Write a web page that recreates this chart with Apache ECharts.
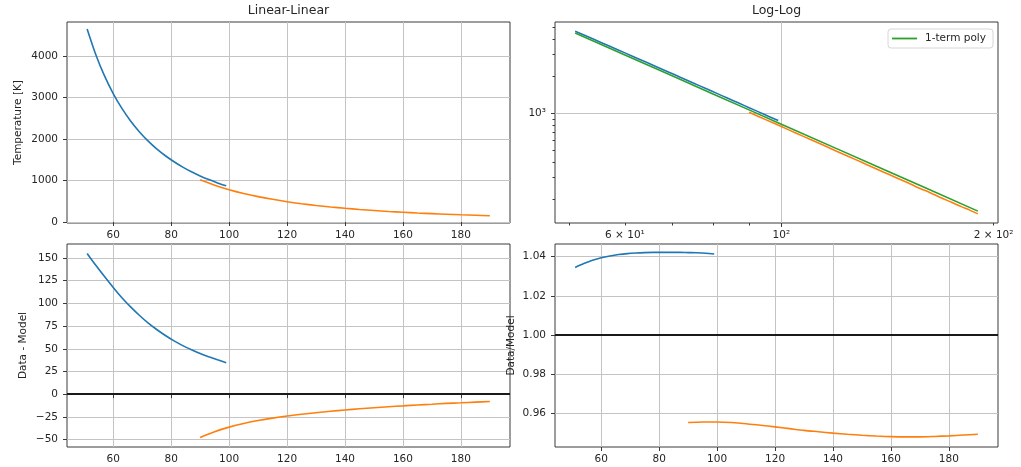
<!DOCTYPE html>
<html>
<head>
<meta charset="utf-8">
<title>Temperature fit</title>
<script src="https://cdn.jsdelivr.net/npm/echarts@6/dist/echarts.min.js"></script>
<style>
  html, body { margin: 0; padding: 0; background: #ffffff; }
  #chart { width: 1021px; height: 467px; }
</style>
</head>
<body>
<div id="chart"></div>
<script>
// ---- data -------------------------------------------------------------
const blueX = [51, 54, 57, 60, 63, 66, 69, 72, 75, 78, 81, 84, 87, 90, 93, 96, 99];
const blueTemp = [4648, 4029, 3518, 3094, 2736, 2433, 2175, 1954, 1761, 1595, 1450, 1321, 1209, 1110, 1021, 942, 871];
const blueDiff = [155.0, 141.9, 129.5, 117.5, 106.2, 96.1, 86.9, 78.5, 71.2, 64.6, 58.7, 53.5, 49.0, 44.8, 41.2, 37.8, 34.6];
const blueRatio = [1.0345, 1.0365, 1.0382, 1.0395, 1.0404, 1.0411, 1.0416, 1.0419, 1.0421, 1.0422,
                   1.0422, 1.0422, 1.0422, 1.0421, 1.0420, 1.0418, 1.0414];

const orangeX = [90, 95, 100, 105, 110, 115, 120, 125, 130, 135, 140, 145, 150, 155, 160, 165, 170, 175, 180, 185, 190];
const orangeTemp = [1017, 887, 779, 688, 611, 546, 489, 441, 399, 362, 330, 302, 277, 254, 235, 217, 201, 187, 174, 163, 152];
const orangeDiff = [-47.7, -41.3, -36.3, -32.3, -29.1, -26.4, -24.1, -22.2, -20.5, -18.9, -17.4,
                    -16.1, -15.0, -13.9, -12.9, -11.9, -11.1, -10.2, -9.5, -8.8, -8.1];
const orangeRatio = [0.9552, 0.9555, 0.9555, 0.9552, 0.9546, 0.9538, 0.9530, 0.9521, 0.9512, 0.9505, 0.9498,
                     0.9492, 0.9487, 0.9483, 0.9480, 0.9479, 0.9479, 0.9481, 0.9484, 0.9488, 0.9492];

// single power-law fit, straight on log-log axes
const fitX = [51, 60, 70, 80, 90, 100, 120, 140, 160, 190];
const fitTemp = [4493, 2976, 2013, 1435, 1065, 815, 513, 347, 248, 160];

// ---- tick values --------------------------------------------------------
const linXTicks = [60, 80, 100, 120, 140, 160, 180];
const tempTicks = [0, 1000, 2000, 3000, 4000];
const diffTicks = [-50, -25, 0, 25, 50, 75, 100, 125, 150];
const ratioTicks = [0.96, 0.98, 1.00, 1.02, 1.04];
const logXMajor = [100];
const logXLabels = [60, 100, 200];
const logXMinor = [50, 60, 70, 80, 90, 200];
const logYMajor = [1000];
const logYMinor = [200, 300, 400, 500, 600, 700, 800, 900, 2000, 3000, 4000, 5000];
const logLabelText = { 60: '6 × 10¹', 100: '10²', 200: '2 × 10²', 1000: '10³' };

// ---- styling helpers ----------------------------------------------------
const FONT = 'DejaVu Sans';
const INK = '#262626';
const FRAME = '#3a3a3a';
const GRIDLINE = '#c4c4c4';
const BLUE = '#1f77b4', ORANGE = '#ff7f0e', GREEN = '#2ca02c';

const pairs = (xs, ys) => xs.map((x, i) => [x, ys[i]]);
const plain = v => String(v).replace('-', '\u2212');

function axis(cfg) {
  const isX = cfg.dim === 'x';
  return {
    type: cfg.type || 'value',
    gridIndex: cfg.grid,
    position: isX ? 'bottom' : 'left',
    min: cfg.min,
    max: cfg.max,
    logBase: 10,
    name: cfg.name || '',
    nameLocation: 'middle',
    nameGap: cfg.nameGap || 0,
    nameTextStyle: { fontFamily: FONT, fontSize: 10.5, color: INK },
    axisLine: { show: false },
    axisTick: {
      show: !!cfg.ticks,
      length: cfg.tickLen || 4,
      customValues: cfg.ticks,
      lineStyle: { color: FRAME, width: 1 }
    },
    axisLabel: {
      show: !!cfg.labels,
      customValues: cfg.labels,
      formatter: cfg.fmt || plain,
      margin: isX ? 7 : 9,
      fontFamily: FONT,
      fontSize: 10.5,
      color: INK
    },
    splitLine: { show: !!cfg.split, lineStyle: { color: GRIDLINE, width: 1 } },
    minorTick: { show: false },
    minorSplitLine: { show: false }
  };
}

function line(name, data, color, xi, yi, extra) {
  return Object.assign({
    type: 'line',
    name: name,
    data: data,
    xAxisIndex: xi,
    yAxisIndex: yi,
    showSymbol: false,
    symbol: 'none',
    smooth: 0.3,
    silent: true,
    lineStyle: { color: color, width: 1.6 },
    itemStyle: { color: color }
  }, extra || {});
}

function refLine(value) {
  return {
    silent: true,
    symbol: 'none',
    label: { show: false },
    lineStyle: { color: '#1a1a1a', width: 2, type: 'solid' },
    data: [{ yAxis: value }]
  };
}

const gridBase = { show: true, borderColor: FRAME, borderWidth: 1, backgroundColor: '#ffffff', containLabel: false, outerBoundsMode: 'none' };
const LIN_X_MIN = 44.05, LIN_X_MAX = 196.95;

const option = {
  animation: false,
  backgroundColor: '#ffffff',
  textStyle: { fontFamily: FONT },
  title: [
    { text: 'Linear-Linear', left: 288.5, top: 4, textAlign: 'center', padding: 0,
      textStyle: { fontFamily: FONT, fontSize: 12.5, fontWeight: 'normal', color: INK } },
    { text: 'Log-Log', left: 776.5, top: 4, textAlign: 'center', padding: 0,
      textStyle: { fontFamily: FONT, fontSize: 12.5, fontWeight: 'normal', color: INK } }
  ],
  legend: {
    data: [{ name: '1-term poly', icon: 'rect' }],
    right: 28,
    top: 29,
    itemWidth: 25,
    itemHeight: 1.8,
    itemStyle: { color: GREEN },
    padding: [4, 7, 4, 4],
    borderColor: '#d6d6d6',
    borderWidth: 1,
    borderRadius: 3,
    backgroundColor: 'rgba(255,255,255,0.8)',
    textStyle: { fontFamily: FONT, fontSize: 10.5, color: INK, padding: [0, 0, 0, 3] },
    selectedMode: false
  },
  grid: [
    Object.assign({ left: 67, top: 22, width: 443, height: 201 }, gridBase),
    Object.assign({ left: 555, top: 22, width: 443, height: 201 }, gridBase),
    Object.assign({ left: 67, top: 244, width: 443, height: 203 }, gridBase),
    Object.assign({ left: 555, top: 244, width: 443, height: 203 }, gridBase)
  ],
  xAxis: [
    axis({ dim: 'x', grid: 0, min: LIN_X_MIN, max: LIN_X_MAX, ticks: linXTicks, labels: linXTicks, split: true }),
    axis({ dim: 'x', grid: 1, type: 'log', min: 47.75, max: 202.9, ticks: logXMajor, labels: logXLabels, split: true,
           fmt: v => logLabelText[Math.round(v)] || '' }),
    axis({ dim: 'x', grid: 1, type: 'log', min: 47.75, max: 202.9, ticks: logXMinor, tickLen: 2.5 }),
    axis({ dim: 'x', grid: 2, min: LIN_X_MIN, max: LIN_X_MAX, ticks: linXTicks, labels: linXTicks, split: true }),
    axis({ dim: 'x', grid: 3, min: LIN_X_MIN, max: LIN_X_MAX, ticks: linXTicks, labels: linXTicks, split: true })
  ],
  yAxis: [
    axis({ dim: 'y', grid: 0, min: -24, max: 4816, ticks: tempTicks, labels: tempTicks, split: true,
           name: 'Temperature [K]', nameGap: 43 }),
    axis({ dim: 'y', grid: 1, type: 'log', min: 128.1, max: 5516, ticks: logYMajor, labels: logYMajor, split: true,
           fmt: v => logLabelText[Math.round(v)] || '' }),
    axis({ dim: 'y', grid: 1, type: 'log', min: 128.1, max: 5516, ticks: logYMinor, tickLen: 2.5 }),
    axis({ dim: 'y', grid: 2, min: -58.2, max: 165.4, ticks: diffTicks, labels: diffTicks, split: true,
           name: 'Data - Model', nameGap: 38 }),
    axis({ dim: 'y', grid: 3, min: 0.9427, max: 1.0465, ticks: ratioTicks, labels: ratioTicks, split: true,
           fmt: v => v.toFixed(2), name: 'Data/Model', nameGap: 38 })
  ],
  series: [
    // linear-linear
    line('data A', pairs(blueX, blueTemp), BLUE, 0, 0),
    line('data B', pairs(orangeX, orangeTemp), ORANGE, 0, 0),
    // log-log
    line('data A', pairs(blueX, blueTemp), BLUE, 1, 1),
    line('data B', pairs(orangeX, orangeTemp), ORANGE, 1, 1),
    line('1-term poly', pairs(fitX, fitTemp), GREEN, 1, 1, { smooth: false }),
    // residuals
    line('data A', pairs(blueX, blueDiff), BLUE, 3, 3, { markLine: refLine(0) }),
    line('data B', pairs(orangeX, orangeDiff), ORANGE, 3, 3),
    // ratios
    line('data A', pairs(blueX, blueRatio), BLUE, 4, 4, { markLine: refLine(1) }),
    line('data B', pairs(orangeX, orangeRatio), ORANGE, 4, 4)
  ]
};

const chart = echarts.init(document.getElementById('chart'), null, { renderer: 'canvas' });
chart.setOption(option);
</script>
</body>
</html>
